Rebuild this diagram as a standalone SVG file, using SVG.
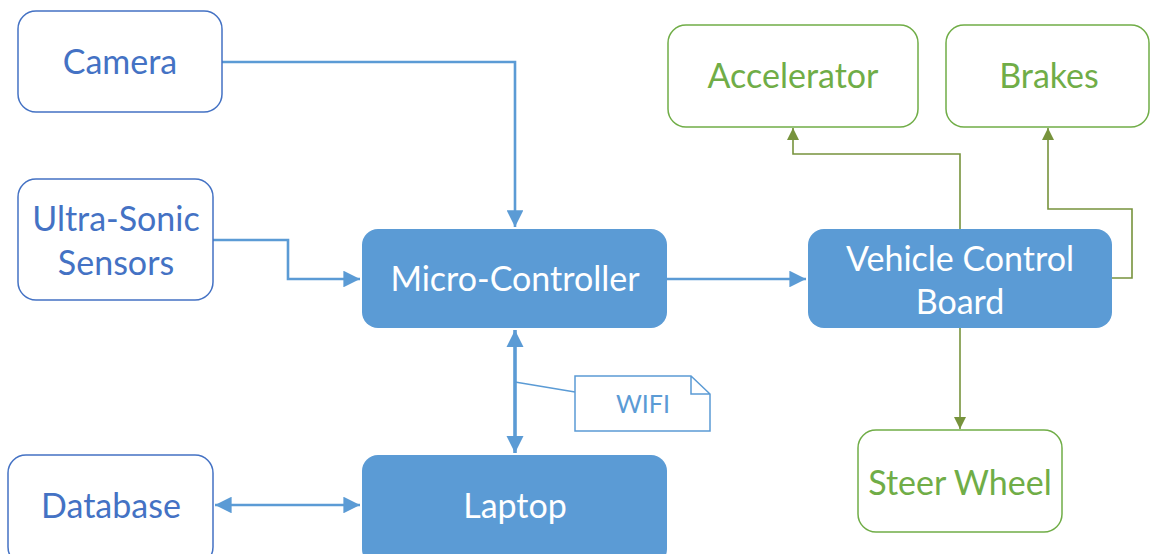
<svg xmlns="http://www.w3.org/2000/svg" width="1150" height="554" viewBox="0 0 1150 554">
<defs>
<style>
.ob{fill:#fff;stroke:#4472C4;stroke-width:1.5}
.og{fill:#fff;stroke:#70AD47;stroke-width:1.5}
.fb{fill:#5B9BD5;stroke:none}
text{font-family:Lato,"Open Sans",sans-serif;font-size:34px;text-anchor:middle}
.tb{fill:#4472C4}
.tg{fill:#70AD47}
.tw{fill:#fff}
.cb{fill:none;stroke:#5B9BD5;stroke-width:2.6}
.cbt{fill:none;stroke:#5B9BD5;stroke-width:3.6}
.cg{fill:none;stroke:#77933C;stroke-width:1.6}
</style>
<marker id="ab" viewBox="0 0 10 10" refX="10" refY="5" markerWidth="6.4" markerHeight="6.4" markerUnits="strokeWidth" orient="auto-start-reverse"><path d="M0,0L10,5L0,10z" fill="#5B9BD5"/></marker>
<marker id="abt" viewBox="0 0 10 10" refX="10" refY="5" markerWidth="4.8" markerHeight="4.8" markerUnits="strokeWidth" orient="auto-start-reverse"><path d="M0,0L10,5L0,10z" fill="#5B9BD5"/></marker>
<marker id="ag" viewBox="0 0 10 10" refX="10" refY="5" markerWidth="7.5" markerHeight="7.5" markerUnits="strokeWidth" orient="auto"><path d="M0,0L10,5L0,10z" fill="#77933C"/></marker>
</defs>

<g id="connectors">
<path class="cb" d="M222,62H515V227" marker-end="url(#ab)"/>
<path class="cb" d="M213,240H288V279H360" marker-end="url(#ab)"/>
<path class="cb" d="M667,279H806" marker-end="url(#ab)"/>
<path class="cbt" d="M515,330V453" marker-start="url(#abt)" marker-end="url(#abt)"/>
<path class="cb" d="M215,505H360" marker-start="url(#ab)" marker-end="url(#ab)"/>
<path class="cg" d="M960,229V154H793V128" marker-end="url(#ag)"/>
<path class="cg" d="M1112,278H1132V209H1048V128" marker-end="url(#ag)"/>
<path class="cg" d="M960,328V429" marker-end="url(#ag)"/>
<path fill="none" stroke="#5B9BD5" stroke-width="1.5" d="M515,382L575,392"/>
</g>

<g id="camera"><rect class="ob" x="18" y="11" width="204" height="101" rx="18"/><text class="tb" x="120" y="74">Camera</text></g>
<g id="ultrasonic"><rect class="ob" x="18" y="179" width="195" height="121" rx="18"/><text class="tb" x="116" y="231">Ultra-Sonic</text><text class="tb" x="116" y="275">Sensors</text></g>
<g id="database"><rect class="ob" x="8" y="455" width="205" height="110" rx="18"/><text class="tb" x="111" y="518">Database</text></g>
<g id="microcontroller"><rect class="fb" x="362" y="229" width="305" height="99" rx="16"/><text class="tw" x="515" y="291">Micro-Controller</text></g>
<g id="laptop"><rect class="fb" x="362" y="455" width="305" height="110" rx="16"/><text class="tw" x="515" y="518">Laptop</text></g>
<g id="vehicle"><rect class="fb" x="808" y="229" width="304" height="99" rx="16"/><text class="tw" x="960" y="271">Vehicle Control</text><text class="tw" x="960" y="314">Board</text></g>
<g id="accelerator"><rect class="og" x="668" y="25" width="250" height="102" rx="18"/><text class="tg" x="793" y="88">Accelerator</text></g>
<g id="brakes"><rect class="og" x="946" y="25" width="203" height="102" rx="18"/><text class="tg" x="1049" y="88">Brakes</text></g>
<g id="steerwheel"><rect class="og" x="858" y="430" width="204" height="102" rx="18"/><text class="tg" x="960" y="495">Steer Wheel</text></g>
<g id="wifi"><path fill="#fff" stroke="#5B9BD5" stroke-width="1.5" d="M575,376H691L710,394V431H575Z M691,376V394H710"/><text x="643" y="413" style="font-size:25px;fill:#5B9BD5">WIFI</text></g>
</svg>
